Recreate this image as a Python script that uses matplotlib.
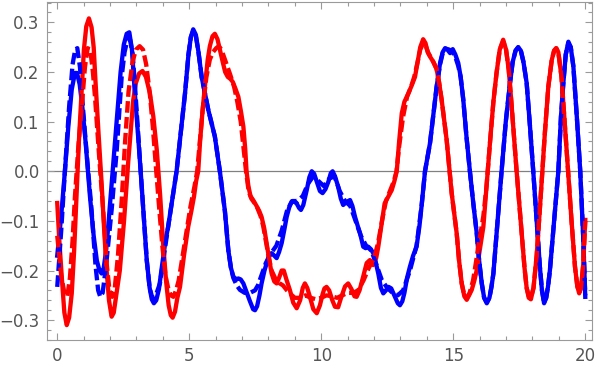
import numpy as np
import matplotlib
matplotlib.use("Agg")
import matplotlib.pyplot as plt
from matplotlib.ticker import MultipleLocator

# values
blue_solid_x = [0, 0.15, 0.29, 0.42, 0.55, 0.67, 0.75, 0.85, 0.95, 1.08, 1.24, 1.38, 1.5, 1.6, 1.68, 1.76, 1.85, 1.93,
                2.1, 2.25, 2.4, 2.52, 2.63, 2.73, 2.83, 2.94, 3.05, 3.16, 3.28, 3.39, 3.5, 3.58, 3.66, 3.75, 3.85,
                3.97, 4.1, 4.2, 4.52, 4.84, 4.97, 5.06, 5.15, 5.25, 5.35, 5.47, 5.72, 5.97, 6.16, 6.35, 6.48, 6.58,
                6.67, 6.78, 6.86, 6.95, 7.05, 7.18, 7.3, 7.42, 7.49, 7.57, 7.66, 7.74, 7.85, 7.93, 8.03, 8.12, 8.22,
                8.31, 8.4, 8.5, 8.6, 8.69, 8.8, 8.88, 8.97, 9.07, 9.16, 9.23, 9.32, 9.45, 9.55, 9.64, 9.73, 9.83, 9.95,
                10.05, 10.16, 10.27, 10.36, 10.43, 10.52, 10.64, 10.74, 10.83, 10.95, 11.09, 11.18, 11.28, 11.38,
                11.47, 11.59, 11.68, 11.78, 11.88, 11.97, 12.07, 12.16, 12.26, 12.35, 12.45, 12.55, 12.65, 12.79,
                12.9, 12.98, 13.07, 13.15, 13.25, 13.36, 13.48, 13.61, 13.72, 13.8, 13.93, 14.12, 14.37, 14.5, 14.6,
                14.69, 14.78, 14.88, 14.98, 15.08, 15.19, 15.28, 15.38, 15.5, 15.63, 15.76, 15.89, 15.98, 16.08,
                16.17, 16.27, 16.37, 16.45, 16.52, 16.68, 16.83, 16.99, 17.15, 17.25, 17.36, 17.46, 17.56, 17.66,
                17.78, 17.9, 18.03, 18.16, 18.28, 18.36, 18.44, 18.52, 18.59, 18.66, 18.82, 18.98, 19.08, 19.17,
                19.26, 19.36, 19.45, 19.55, 19.68, 19.81, 19.92, 20.0]
blue_solid_y = [-0.17, -0.09, 0.0, 0.09, 0.165, 0.198, 0.198, 0.175, 0.13, 0.055, -0.051, -0.13, -0.18, -0.2, -0.206,
                -0.195, -0.16, -0.112, 0.0, 0.1, 0.2, 0.255, 0.277, 0.28, 0.245, 0.157, 0.08, 0.0, -0.095, -0.179,
                -0.235, -0.258, -0.266, -0.26, -0.238, -0.19, -0.14, -0.112, 0.0, 0.157, 0.235, 0.27, 0.286, 0.275,
                0.24, 0.19, 0.124, 0.07, 0.0, -0.08, -0.159, -0.195, -0.212, -0.218, -0.216, -0.218, -0.226, -0.245,
                -0.262, -0.278, -0.28, -0.272, -0.25, -0.226, -0.2, -0.186, -0.168, -0.165, -0.17, -0.175, -0.163,
                -0.145, -0.118, -0.092, -0.07, -0.061, -0.061, -0.065, -0.074, -0.078, -0.068, -0.038, -0.012, 0.0,
                -0.005, -0.021, -0.04, -0.044, -0.036, -0.021, -0.004, 0.0, -0.01, -0.031, -0.055, -0.068, -0.062,
                -0.058, -0.07, -0.092, -0.11, -0.125, -0.152, -0.155, -0.152, -0.157, -0.165, -0.185, -0.206, -0.235,
                -0.246, -0.24, -0.233, -0.236, -0.253, -0.266, -0.27, -0.262, -0.245, -0.215, -0.192, -0.17, -0.152,
                -0.11, -0.07, 0.0, 0.057, 0.17, 0.218, 0.24, 0.248, 0.245, 0.238, 0.246, 0.235, 0.218, 0.19, 0.144,
                0.07, 0.0, -0.065, -0.125, -0.18, -0.226, -0.255, -0.266, -0.255, -0.232, -0.206, -0.1, 0.0, 0.1,
                0.178, 0.22, 0.243, 0.25, 0.243, 0.22, 0.178, 0.095, 0.0, -0.1, -0.192, -0.24, -0.266, -0.255, -0.232,
                -0.2, -0.1, 0.0, 0.11, 0.178, 0.235, 0.261, 0.25, 0.211, 0.11, 0.0, -0.13, -0.253]

blue_dash_x = [0, 0.15, 0.29, 0.45, 0.58, 0.68, 0.76, 0.86, 0.98, 1.14, 1.3, 1.45, 1.55, 1.63, 1.72, 1.85, 2.06, 2.25,
               2.44, 2.55, 2.66, 2.76, 2.86, 2.96, 3.16, 3.39, 3.5, 3.6, 3.7, 3.8, 3.89, 4.2, 4.52, 4.84, 4.97, 5.06,
               5.15, 5.25, 5.35, 5.47, 5.72, 5.97, 6.16, 6.35, 6.48, 6.58, 6.67, 6.8, 6.92, 7.1, 7.3, 7.49, 7.6, 7.7,
               7.9, 8.1, 8.3, 8.5, 8.7, 8.9, 9.1, 9.3, 9.5, 9.7, 9.9, 10.1, 10.3, 10.5, 10.7, 10.9, 11.1, 11.3, 11.5,
               11.7, 11.9, 12.1, 12.3, 12.5, 12.7, 12.9, 13.1, 13.36, 13.61, 13.8, 13.93, 14.12, 14.37, 14.5, 14.6,
               14.72, 14.85, 14.98, 15.08, 15.19, 15.28, 15.38, 15.5, 15.63, 15.76, 15.89, 15.98, 16.08, 16.17,
               16.27, 16.37, 16.45, 16.52, 16.68, 16.83, 16.99, 17.15, 17.25, 17.36, 17.46, 17.56, 17.66, 17.78,
               17.9, 18.03, 18.16, 18.28, 18.36, 18.44, 18.52, 18.59, 18.66, 18.82, 18.98, 19.08, 19.17, 19.26,
               19.36, 19.45, 19.55, 19.68, 19.81, 19.92, 20.0]
blue_dash_y = [-0.233, -0.12, 0.0, 0.13, 0.215, 0.245, 0.248, 0.21, 0.124, 0.02, -0.078, -0.19, -0.24, -0.253,
               -0.245, -0.19, -0.078, 0.04, 0.19, 0.24, 0.265, 0.265, 0.235, 0.16, 0.0, -0.179, -0.235, -0.255, -0.255,
               -0.24, -0.226, -0.112, 0.0, 0.157, 0.235, 0.27, 0.283, 0.272, 0.24, 0.19, 0.124, 0.07, 0.0, -0.08,
               -0.159, -0.195, -0.215, -0.23, -0.239, -0.245, -0.245, -0.24, -0.23, -0.215, -0.185, -0.165, -0.15,
               -0.12, -0.08, -0.06, -0.06, -0.05, -0.025, -0.01, -0.02, -0.03, -0.015, -0.01, -0.04, -0.06, -0.07,
               -0.1, -0.13, -0.15, -0.16, -0.19, -0.22, -0.235, -0.245, -0.25, -0.24, -0.2, -0.15, -0.07, 0.0, 0.057,
               0.17, 0.215, 0.238, 0.247, 0.245, 0.24, 0.23, 0.212, 0.19, 0.144, 0.07, 0.0, -0.065, -0.125, -0.18,
               -0.226, -0.255, -0.264, -0.255, -0.232, -0.206, -0.1, 0.0, 0.1, 0.178, 0.22, 0.243, 0.25, 0.243, 0.22,
               0.178, 0.095, 0.0, -0.1, -0.192, -0.24, -0.264, -0.255, -0.232, -0.2, -0.1, 0.0, 0.11, 0.178, 0.235,
               0.258, 0.25, 0.211, 0.11, 0.0, -0.13, -0.25]

red_solid_x = [0, 0.08, 0.17, 0.27, 0.36, 0.45, 0.55, 0.64, 0.73, 0.82, 0.92, 1.01, 1.1, 1.2, 1.3, 1.38, 1.45, 1.56,
               1.68, 1.78, 1.87, 1.96, 2.06, 2.14, 2.22, 2.37, 2.53, 2.69, 2.88, 2.98, 3.1, 3.23, 3.36, 3.51, 3.64,
               3.77, 3.9, 4.01, 4.12, 4.22, 4.3, 4.37, 4.46, 4.55, 4.65, 4.8, 4.96, 5.08, 5.18, 5.26, 5.34, 5.41, 5.5,
               5.6, 5.7, 5.78, 5.88, 5.97, 6.07, 6.16, 6.26, 6.36, 6.46, 6.56, 6.65, 6.76, 6.86, 6.96, 7.05, 7.12,
               7.17, 7.24, 7.32, 7.42, 7.55, 7.65, 7.74, 7.84, 7.93, 8.03, 8.12, 8.22, 8.31, 8.4, 8.5, 8.58, 8.68,
               8.81, 8.94, 9.07, 9.2, 9.3, 9.38, 9.47, 9.57, 9.7, 9.83, 9.95, 10.05, 10.12, 10.2, 10.3, 10.42, 10.52,
               10.64, 10.75, 10.9, 11.02, 11.14, 11.26, 11.34, 11.45, 11.59, 11.72, 11.84, 11.97, 12.08, 12.16, 12.29,
               12.4, 12.5, 12.6, 12.67, 12.77, 12.86, 12.95, 13.05, 13.15, 13.3, 13.42, 13.55, 13.65, 13.75, 13.86,
               13.95, 14.03, 14.12, 14.25, 14.37, 14.46, 14.56, 14.75, 14.94, 15.13, 15.22, 15.32, 15.42, 15.51, 15.6,
               15.7, 15.8, 15.89, 16.0, 16.14, 16.26, 16.39, 16.52, 16.64, 16.76, 16.89, 17.0, 17.1, 17.2, 17.3, 17.4,
               17.59, 17.7, 17.78, 17.86, 17.94, 18.04, 18.16, 18.3, 18.47, 18.6, 18.73, 18.82, 18.9, 18.98, 19.1,
               19.22, 19.35, 19.48, 19.61, 19.7, 19.77, 19.84, 19.92, 20.0]
red_solid_y = [-0.064, -0.14, -0.212, -0.285, -0.31, -0.295, -0.246, -0.16, -0.051, 0.06, 0.157, 0.245, 0.292, 0.308,
               0.29, 0.25, 0.18, 0.08, -0.024, -0.12, -0.199, -0.26, -0.293, -0.285, -0.255, -0.2, -0.1, 0.02, 0.144,
               0.178, 0.197, 0.202, 0.19, 0.157, 0.11, 0.043, -0.05, -0.145, -0.22, -0.27, -0.29, -0.295, -0.283,
               -0.255, -0.233, -0.17, -0.112, -0.08, -0.051, -0.02, 0.0, 0.06, 0.12, 0.175, 0.225, 0.252, 0.272, 0.277,
               0.266, 0.245, 0.222, 0.2, 0.19, 0.186, 0.18, 0.165, 0.15, 0.12, 0.09, 0.045, 0.0, -0.03, -0.05, -0.058,
               -0.07, -0.08, -0.092, -0.115, -0.145, -0.178, -0.206, -0.222, -0.226, -0.215, -0.2, -0.2, -0.218,
               -0.239, -0.265, -0.276, -0.26, -0.235, -0.226, -0.235, -0.253, -0.278, -0.286, -0.27, -0.248, -0.236,
               -0.233, -0.24, -0.26, -0.273, -0.274, -0.255, -0.232, -0.226, -0.237, -0.252, -0.253, -0.24, -0.212,
               -0.185, -0.179, -0.189, -0.175, -0.152, -0.105, -0.065, -0.055, -0.045, -0.038, -0.02, 0.0, 0.06,
               0.117, 0.14, 0.157, 0.172, 0.19, 0.22, 0.25, 0.266, 0.258, 0.24, 0.231, 0.22, 0.206, 0.18, 0.144, 0.063,
               -0.044, -0.125, -0.18, -0.226, -0.252, -0.259, -0.25, -0.239, -0.22, -0.199, -0.16, -0.112, -0.03,
               0.057, 0.14, 0.198, 0.245, 0.265, 0.245, 0.205, 0.14, 0.07, 0.0, -0.125, -0.195, -0.235, -0.255,
               -0.258, -0.235, -0.17, -0.06, 0.077, 0.17, 0.224, 0.243, 0.248, 0.24, 0.19, 0.1, 0.0, -0.1, -0.192,
               -0.232, -0.246, -0.235, -0.19, -0.098]

red_dash_x = [0, 0.15, 0.28, 0.38, 0.48, 0.58, 0.67, 0.8, 0.92, 1.05, 1.15, 1.25, 1.35, 1.43, 1.6, 1.74, 1.88, 1.98,
              2.08, 2.18, 2.3, 2.44, 2.57, 2.7, 2.85, 2.98, 3.12, 3.25, 3.37, 3.5, 3.62, 3.75, 3.87, 3.98, 4.1, 4.2,
              4.3, 4.4, 4.5, 4.6, 4.75, 4.9, 5.05, 5.2, 5.3, 5.4, 5.52, 5.65, 5.78, 5.9, 6.02, 6.12, 6.22, 6.32, 6.42,
              6.55, 6.7, 6.82, 6.95, 7.05, 7.15, 7.25, 7.35, 7.55, 7.7, 7.8, 7.9, 8.0, 8.12, 8.25, 8.4, 8.55, 8.7,
              8.85, 9.0, 9.2, 9.4, 9.6, 9.8, 10.0, 10.2, 10.4, 10.6, 10.8, 11.0, 11.2, 11.4, 11.6, 11.8, 12.0, 12.15,
              12.3, 12.45, 12.6, 12.75, 12.85, 12.95, 13.1, 13.25, 13.4, 13.52, 13.65, 13.75, 13.86, 13.96, 14.06,
              14.2, 14.37, 14.46, 14.56, 14.75, 14.94, 15.13, 15.22, 15.32, 15.42, 15.51, 15.62, 15.75, 15.87, 15.95,
              16.05, 16.14, 16.26, 16.39, 16.52, 16.64, 16.76, 16.89, 17.0, 17.1, 17.2, 17.3, 17.4, 17.59, 17.7,
              17.78, 17.86, 17.94, 18.04, 18.16, 18.3, 18.47, 18.6, 18.73, 18.82, 18.9, 18.98, 19.1, 19.22, 19.35,
              19.48, 19.61, 19.7, 19.77, 19.84, 19.92, 20.0]
red_dash_y = [-0.13, -0.21, -0.248, -0.253, -0.215, -0.14, -0.051, 0.05, 0.124, 0.21, 0.248, 0.245, 0.2, 0.15, 0.02,
              -0.078, -0.19, -0.24, -0.253, -0.235, -0.17, -0.06, 0.06, 0.16, 0.22, 0.245, 0.252, 0.245, 0.215, 0.16,
              0.09, 0.0, -0.08, -0.15, -0.21, -0.235, -0.25, -0.253, -0.24, -0.22, -0.17, -0.12, -0.07, -0.03, 0.0,
              0.06, 0.13, 0.19, 0.225, 0.24, 0.248, 0.252, 0.245, 0.23, 0.215, 0.195, 0.17, 0.14, 0.1, 0.05, 0.0,
              -0.04, -0.055, -0.07, -0.09, -0.11, -0.14, -0.17, -0.2, -0.215, -0.225, -0.23, -0.24, -0.248, -0.255,
              -0.255, -0.25, -0.255, -0.258, -0.255, -0.25, -0.252, -0.255, -0.25, -0.245, -0.245, -0.24, -0.22,
              -0.195, -0.175, -0.145, -0.1, -0.06, -0.04, -0.02, 0.0, 0.05, 0.11, 0.15, 0.17, 0.19, 0.22, 0.245,
              0.258, 0.252, 0.238, 0.225, 0.206, 0.18, 0.144, 0.063, -0.044, -0.125, -0.18, -0.226, -0.25, -0.255,
              -0.245, -0.22, -0.18, -0.15, -0.12, -0.09, -0.03, 0.057, 0.14, 0.198, 0.245, 0.262, 0.245, 0.205, 0.14,
              0.07, 0.0, -0.125, -0.195, -0.235, -0.252, -0.255, -0.235, -0.17, -0.06, 0.077, 0.17, 0.224, 0.243,
              0.248, 0.24, 0.19, 0.1, 0.0, -0.1, -0.192, -0.232, -0.244, -0.235, -0.19, -0.1]

frame_col = "#9a9a9a"
label_col = "#555555"

fig = plt.figure(figsize=(6, 3.72), dpi=100)
ax = fig.add_axes([0.0778, 0.086, 0.9082, 0.9086])

ax.axhline(0, color="#808080", lw=0.9, zorder=1)

lw = 3.1
dash = (2.7, 1.0)
ax.plot(blue_solid_x, blue_solid_y, color="blue", lw=lw, solid_joinstyle="round", zorder=2)
ax.plot(red_solid_x, red_solid_y, color="red", lw=lw, solid_joinstyle="round", zorder=3)
ax.plot(blue_dash_x, blue_dash_y, color="blue", lw=lw, dashes=dash, zorder=4)
ax.plot(red_dash_x, red_dash_y, color="red", lw=lw, dashes=dash, zorder=5)

ax.set_xlim(-0.4, 20.24)
ax.set_ylim(-0.34, 0.341)

ax.xaxis.set_major_locator(MultipleLocator(5))
ax.xaxis.set_minor_locator(MultipleLocator(1))
ax.yaxis.set_minor_locator(MultipleLocator(0.02))
ax.set_yticks([-0.3, -0.2, -0.1, 0.0, 0.1, 0.2, 0.3])
ax.set_yticklabels(["\u22120.3", "\u22120.2", "\u22120.1", "0.0", "0.1", "0.2", "0.3"])

for s in ax.spines.values():
    s.set_color(frame_col)
    s.set_linewidth(0.8)

ax.tick_params(which="both", direction="in", top=True, right=True, color=frame_col, width=0.8)
ax.tick_params(which="major", length=5, labelsize=12, labelcolor=label_col, pad=5)
ax.tick_params(which="minor", length=3)

fig.savefig("out.png", dpi=100)
